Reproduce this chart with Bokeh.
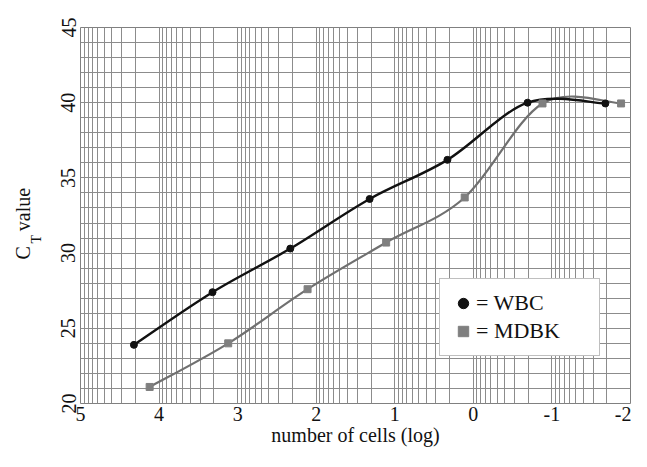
import numpy as np
from math import pi
from bokeh.plotting import figure
from bokeh.models import Range1d, FixedTicker, Legend, LegendItem, Label
from bokeh.embed import file_html
from bokeh.resources import INLINE

# ---- data ----
wbc_x = [4.32, 3.32, 2.33, 1.32, 0.33, -0.69, -1.68]
wbc_y = [23.9, 27.4, 30.3, 33.6, 36.2, 40.0, 39.95]
mdbk_x = [4.12, 3.12, 2.11, 1.11, 0.11, -0.88, -1.88]
mdbk_y = [21.1, 24.0, 27.6, 30.7, 33.7, 39.95, 39.95]
x_ticks = [5, 4, 3, 2, 1, 0, -1, -2]
y_ticks = [20, 25, 30, 35, 40, 45]
x_label = "number of cells (log)"
y_label_main = "C\u00a0\u00a0\u00a0value"   # "C" + room for the subscript + "value"
y_label_sub = "T"
legend_labels = ["= WBC", "= MDBK"]

FONT = "'Liberation Serif'"


def smooth_segments(xs, ys):
    """Catmull-Rom through the points, expressed as cubic Bezier segments."""
    P = np.column_stack([xs, ys]).astype(float)
    ext = np.vstack([P[0], P, P[-1]])
    p0, p1 = ext[1:-2], ext[2:-1]
    prev, nxt = ext[:-3], ext[3:]
    c0 = p0 + (p1 - prev) / 6.0
    c1 = p1 - (nxt - p0) / 6.0
    return dict(x0=p0[:, 0], y0=p0[:, 1], x1=p1[:, 0], y1=p1[:, 1],
                cx0=c0[:, 0], cy0=c0[:, 1], cx1=c1[:, 0], cy1=c1[:, 1])


p = figure(width=631, height=451,
           x_range=Range1d(5, -2), y_range=Range1d(20, 45),
           output_backend="svg", toolbar_location=None,
           min_border_left=80, min_border_right=1,
           min_border_top=27, min_border_bottom=48)
p.background_fill_color = "white"
p.border_fill_color = "white"
p.outline_line_color = "#808080"
p.outline_line_width = 1

# semi-log paper grid
x_minor = [n + np.log10(k) for n in range(-2, 5) for k in range(2, 10)]
p.xaxis.ticker = FixedTicker(ticks=x_ticks, minor_ticks=x_minor)
p.yaxis.ticker = FixedTicker(ticks=y_ticks, minor_ticks=list(range(20, 46)))
for g in (p.xgrid, p.ygrid):
    g.grid_line_color = "#8c8c8c"
    g.grid_line_width = 1
    g.minor_grid_line_color = "#8c8c8c"
    g.minor_grid_line_width = 1

for ax in (p.xaxis, p.yaxis):
    ax.axis_line_color = None
    ax.major_tick_line_color = None
    ax.minor_tick_line_color = None
    ax.major_tick_out = 0
    ax.major_tick_in = 0
    ax.minor_tick_out = 0
    ax.minor_tick_in = 0
    ax.major_label_text_font = FONT
    ax.major_label_text_font_size = "20px"
    ax.major_label_text_color = "#111111"

p.xaxis.major_label_overrides = {t: str(t) for t in x_ticks}
p.xaxis.major_label_standoff = 3
p.xaxis.axis_label = x_label
p.xaxis.axis_label_text_font = FONT
p.xaxis.axis_label_text_font_size = "20px"
p.xaxis.axis_label_text_font_style = "normal"
p.xaxis.axis_label_text_color = "#111111"
p.xaxis.axis_label_standoff = 0

p.yaxis.major_label_orientation = "vertical"
p.yaxis.major_label_standoff = 5

# y axis title "C_T value" in the left side panel (not clipped there)
common = dict(x_units="screen", y_units="screen", angle=pi / 2,
              text_font=FONT, text_color="#111111",
              text_align="left", text_baseline="alphabetic")
p.add_layout(Label(x=-7, y=160, text=y_label_sub, text_font_size="14px", **common), "left")
p.add_layout(Label(x=1, y=144, text=y_label_main, text_font_size="20px", **common), "left")

# curves
wseg = smooth_segments(wbc_x, wbc_y)
mseg = smooth_segments(mdbk_x, mdbk_y)
p.bezier(line_color="#707070", line_width=2.2, **mseg)
p.bezier(line_color="#111111", line_width=2.4, **wseg)
mdbk_pts = p.scatter(mdbk_x, mdbk_y, marker="square", size=7,
                     fill_color="#7f7f7f", line_color="#7f7f7f")
wbc_pts = p.scatter(wbc_x, wbc_y, marker="circle", size=7,
                    fill_color="#111111", line_color="#111111")

legend = Legend(items=[LegendItem(label=legend_labels[0], renderers=[wbc_pts]),
                       LegendItem(label=legend_labels[1], renderers=[mdbk_pts])],
                location=(359, 47), margin=0, padding=10, spacing=0,
                glyph_width=26, glyph_height=28, label_standoff=0, label_width=113,
                label_text_font=FONT, label_text_font_size="22px",
                label_text_color="#111111",
                border_line_color="#808080", border_line_width=1,
                background_fill_color="white", background_fill_alpha=1)
p.add_layout(legend)

open("out.html", "w").write(file_html(p, INLINE))
